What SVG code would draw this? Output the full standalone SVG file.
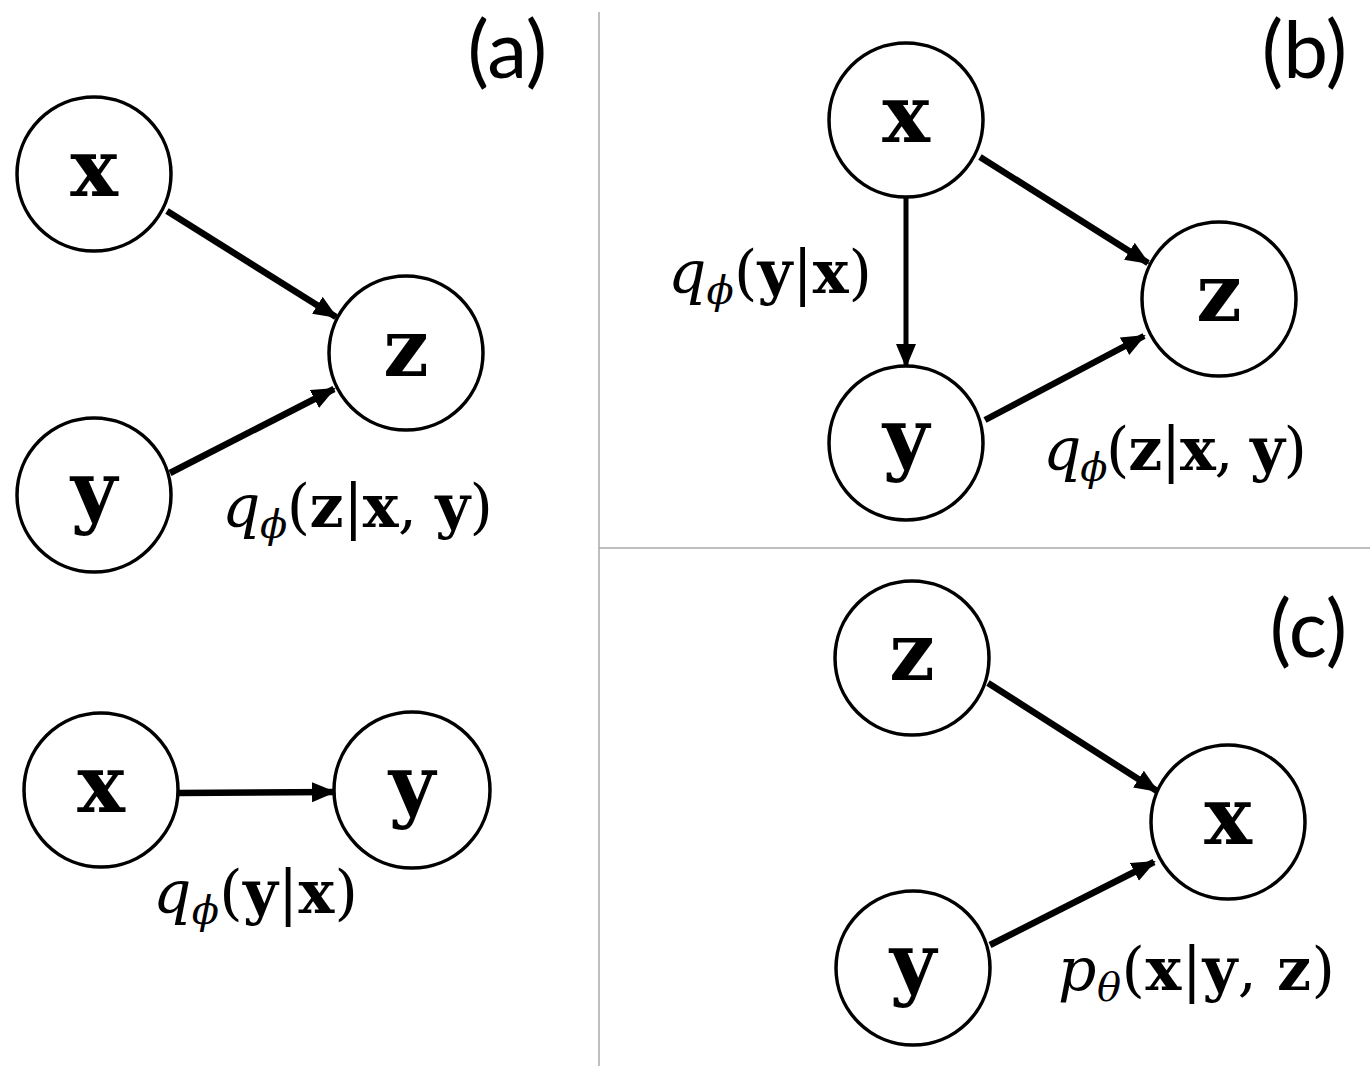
<svg xmlns="http://www.w3.org/2000/svg" width="1370" height="1066" viewBox="0 0 1370 1066">
<style>
.node circle{fill:#fff;stroke:#000;stroke-width:3.5}
.node text{font-family:"DejaVu Serif",serif;font-weight:bold;font-size:80px;text-anchor:middle}
.edge{stroke:#000;stroke-width:6.5;fill:none;marker-end:url(#ah)}
.lbl{font-family:"DejaVu Serif",serif;font-size:60px}
.b{font-weight:bold}
.i{font-style:italic}
.panel{font-family:Lato,"Open Sans",sans-serif;font-size:80px;text-anchor:end}
.div{stroke:#aaa;stroke-width:1.5}
</style>
<defs>
<marker id="ah" markerUnits="userSpaceOnUse" markerWidth="26" markerHeight="22" refX="22" refY="10" orient="auto">
<path d="M0,0 L24,10 L0,20 z" fill="#000"/>
</marker>
</defs>
<rect width="1370" height="1066" fill="#fff"/>
<g id="dividers">
<line class="div" x1="599" y1="12" x2="599" y2="1066"/>
<line class="div" x1="599" y1="548" x2="1370" y2="548"/>
</g>
<g id="panel-labels">
<text class="panel" x="547" y="78">(a)</text>
<text class="panel" x="1347" y="78">(b)</text>
<text class="panel" x="1347" y="657">(c)</text>
</g>
<g id="connectors">
<line class="edge" x1="167" y1="211" x2="336" y2="317"/>
<line class="edge" x1="170" y1="473" x2="334" y2="389"/>
<line class="edge" x1="178" y1="793" x2="334" y2="792"/>
<line class="edge" x1="906" y1="198" x2="906" y2="366" style="stroke-width:5"/>
<line class="edge" x1="980" y1="157" x2="1148" y2="263"/>
<line class="edge" x1="985" y1="420" x2="1144" y2="336"/>
<line class="edge" x1="988" y1="683" x2="1157" y2="791"/>
<line class="edge" x1="990" y1="945" x2="1154" y2="862"/>
</g>
<g id="a-x" class="node"><circle cx="94" cy="174" r="77"/><text x="94" y="196">x</text></g>
<g id="a-z" class="node"><circle cx="406" cy="353" r="77"/><text x="406" y="376">z</text></g>
<g id="a-y" class="node"><circle cx="94" cy="495" r="77"/><text x="94" y="518">y</text></g>
<g id="a2-x" class="node"><circle cx="101" cy="790" r="77"/><text x="101" y="812">x</text></g>
<g id="a2-y" class="node"><circle cx="412" cy="790" r="78"/><text x="412" y="812">y</text></g>
<g id="b-x" class="node"><circle cx="906" cy="120" r="77"/><text x="906" y="142">x</text></g>
<g id="b-z" class="node"><circle cx="1219" cy="299" r="77"/><text x="1219" y="321">z</text></g>
<g id="b-y" class="node"><circle cx="906" cy="443" r="77"/><text x="906" y="465">y</text></g>
<g id="c-z" class="node"><circle cx="912" cy="658" r="77"/><text x="912" y="680">z</text></g>
<g id="c-x" class="node"><circle cx="1228" cy="822" r="77"/><text x="1228" y="844">x</text></g>
<g id="c-y" class="node"><circle cx="913" cy="968" r="77"/><text x="913" y="990">y</text></g>
<g id="edge-labels">
<text class="lbl" x="222" y="527" textLength="271" lengthAdjust="spacing"><tspan class="i">q</tspan><tspan class="i" font-size="40" dy="11">ϕ</tspan><tspan dy="-11">(</tspan><tspan class="b">z</tspan>|<tspan class="b">x</tspan>, <tspan class="b">y</tspan>)</text>
<text class="lbl" x="153" y="913" textLength="205" lengthAdjust="spacing"><tspan class="i">q</tspan><tspan class="i" font-size="40" dy="11">ϕ</tspan><tspan dy="-11">(</tspan><tspan class="b">y</tspan>|<tspan class="b">x</tspan>)</text>
<text class="lbl" x="668" y="293" textLength="204" lengthAdjust="spacing"><tspan class="i">q</tspan><tspan class="i" font-size="40" dy="11">ϕ</tspan><tspan dy="-11">(</tspan><tspan class="b">y</tspan>|<tspan class="b">x</tspan>)</text>
<text class="lbl" x="1043" y="470" textLength="264" lengthAdjust="spacing"><tspan class="i">q</tspan><tspan class="i" font-size="40" dy="11">ϕ</tspan><tspan dy="-11">(</tspan><tspan class="b">z</tspan>|<tspan class="b">x</tspan>, <tspan class="b">y</tspan>)</text>
<text class="lbl" x="1058" y="990" textLength="277" lengthAdjust="spacing"><tspan class="i">p</tspan><tspan class="i" font-size="40" dy="11">θ</tspan><tspan dy="-11">(</tspan><tspan class="b">x</tspan>|<tspan class="b">y</tspan>, <tspan class="b">z</tspan>)</text>
</g>
</svg>
